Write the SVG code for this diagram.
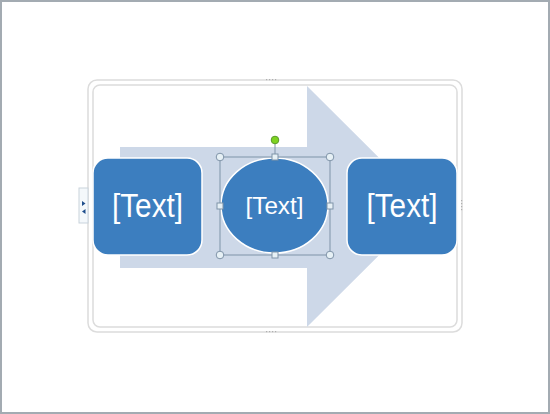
<svg xmlns="http://www.w3.org/2000/svg" width="550" height="414" viewBox="0 0 550 414">
<style>
.frame{fill:none;stroke:#dcdcdc;stroke-width:1.5}
.box{fill:#3c7ebf;stroke:#ffffff;stroke-width:1.5}
.lbl{fill:#ffffff;font-family:"Liberation Sans",Arial,sans-serif;text-anchor:middle}
.hc{fill:#e6f0f5;stroke:#7f93a8;stroke-width:1}
.grip{fill:#b0b0b0}
</style>
<rect x="0" y="0" width="550" height="414" fill="#ffffff"/>
<rect x="1" y="1" width="548" height="412" fill="none" stroke="#a3abb2" stroke-width="2"/>
<g id="frame">
<rect class="frame" x="88" y="80" width="374" height="252" rx="9"/>
<rect class="frame" x="93" y="85" width="364" height="242" rx="7"/>
<g class="grip">
<rect x="266" y="79" width="1.2" height="1.2"/><rect x="269" y="79" width="1.2" height="1.2"/><rect x="272" y="79" width="1.2" height="1.2"/><rect x="275" y="79" width="1.2" height="1.2"/>
<rect x="266" y="331" width="1.2" height="1.2"/><rect x="269" y="331" width="1.2" height="1.2"/><rect x="272" y="331" width="1.2" height="1.2"/><rect x="275" y="331" width="1.2" height="1.2"/>
<rect x="461" y="200" width="1.2" height="1.2"/><rect x="461" y="203" width="1.2" height="1.2"/><rect x="461" y="206" width="1.2" height="1.2"/><rect x="461" y="209" width="1.2" height="1.2"/>
</g>
</g>
<g id="tab">
<rect x="79" y="188" width="9" height="35" fill="#f4f8fb" stroke="#c9d3dc" stroke-width="1"/>
<path d="M82 201 L85.5 203.5 L82 206 Z" fill="#1f4e8c"/>
<path d="M85.5 209 L82 211.5 L85.5 214 Z" fill="#1f4e8c"/>
</g>
<g id="arrow">
<path d="M120 147 L307 147 L307 86 L428 206.5 L307 327 L307 268 L120 268 Z" fill="#cdd8e8"/>
</g>
<g id="connectors"></g>
<g id="node1">
<rect class="box" x="93" y="158" width="109" height="97" rx="15"/>
<text class="lbl" x="147.5" y="217" font-size="33" textLength="71" lengthAdjust="spacingAndGlyphs">[Text]</text>
</g>
<g id="node2">
<ellipse class="box" cx="274.5" cy="205.5" rx="53.5" ry="47.5"/>
<text class="lbl" x="274.5" y="214" font-size="24" textLength="58" lengthAdjust="spacingAndGlyphs">[Text]</text>
</g>
<g id="node3">
<rect class="box" x="347" y="158" width="110" height="97" rx="15"/>
<text class="lbl" x="402" y="217" font-size="33" textLength="71" lengthAdjust="spacingAndGlyphs">[Text]</text>
</g>
<g id="selection">
<rect x="220" y="157" width="110" height="98" fill="none" stroke="#7f93a8" stroke-width="1"/>
<line x1="275" y1="144" x2="275" y2="157" stroke="#7f93a8" stroke-width="1"/>
<circle cx="275" cy="140" r="3.8" fill="#7ed321" stroke="#5a9a2a" stroke-width="1"/>
<circle class="hc" cx="220" cy="157" r="3.8"/>
<circle class="hc" cx="330" cy="157" r="3.8"/>
<circle class="hc" cx="220" cy="255" r="3.8"/>
<circle class="hc" cx="330" cy="255" r="3.8"/>
<rect class="hc" x="272" y="154" width="6" height="6"/>
<rect class="hc" x="272" y="252" width="6" height="6"/>
<rect class="hc" x="217" y="203" width="6" height="6"/>
<rect class="hc" x="327" y="203" width="6" height="6"/>
</g>
</svg>
